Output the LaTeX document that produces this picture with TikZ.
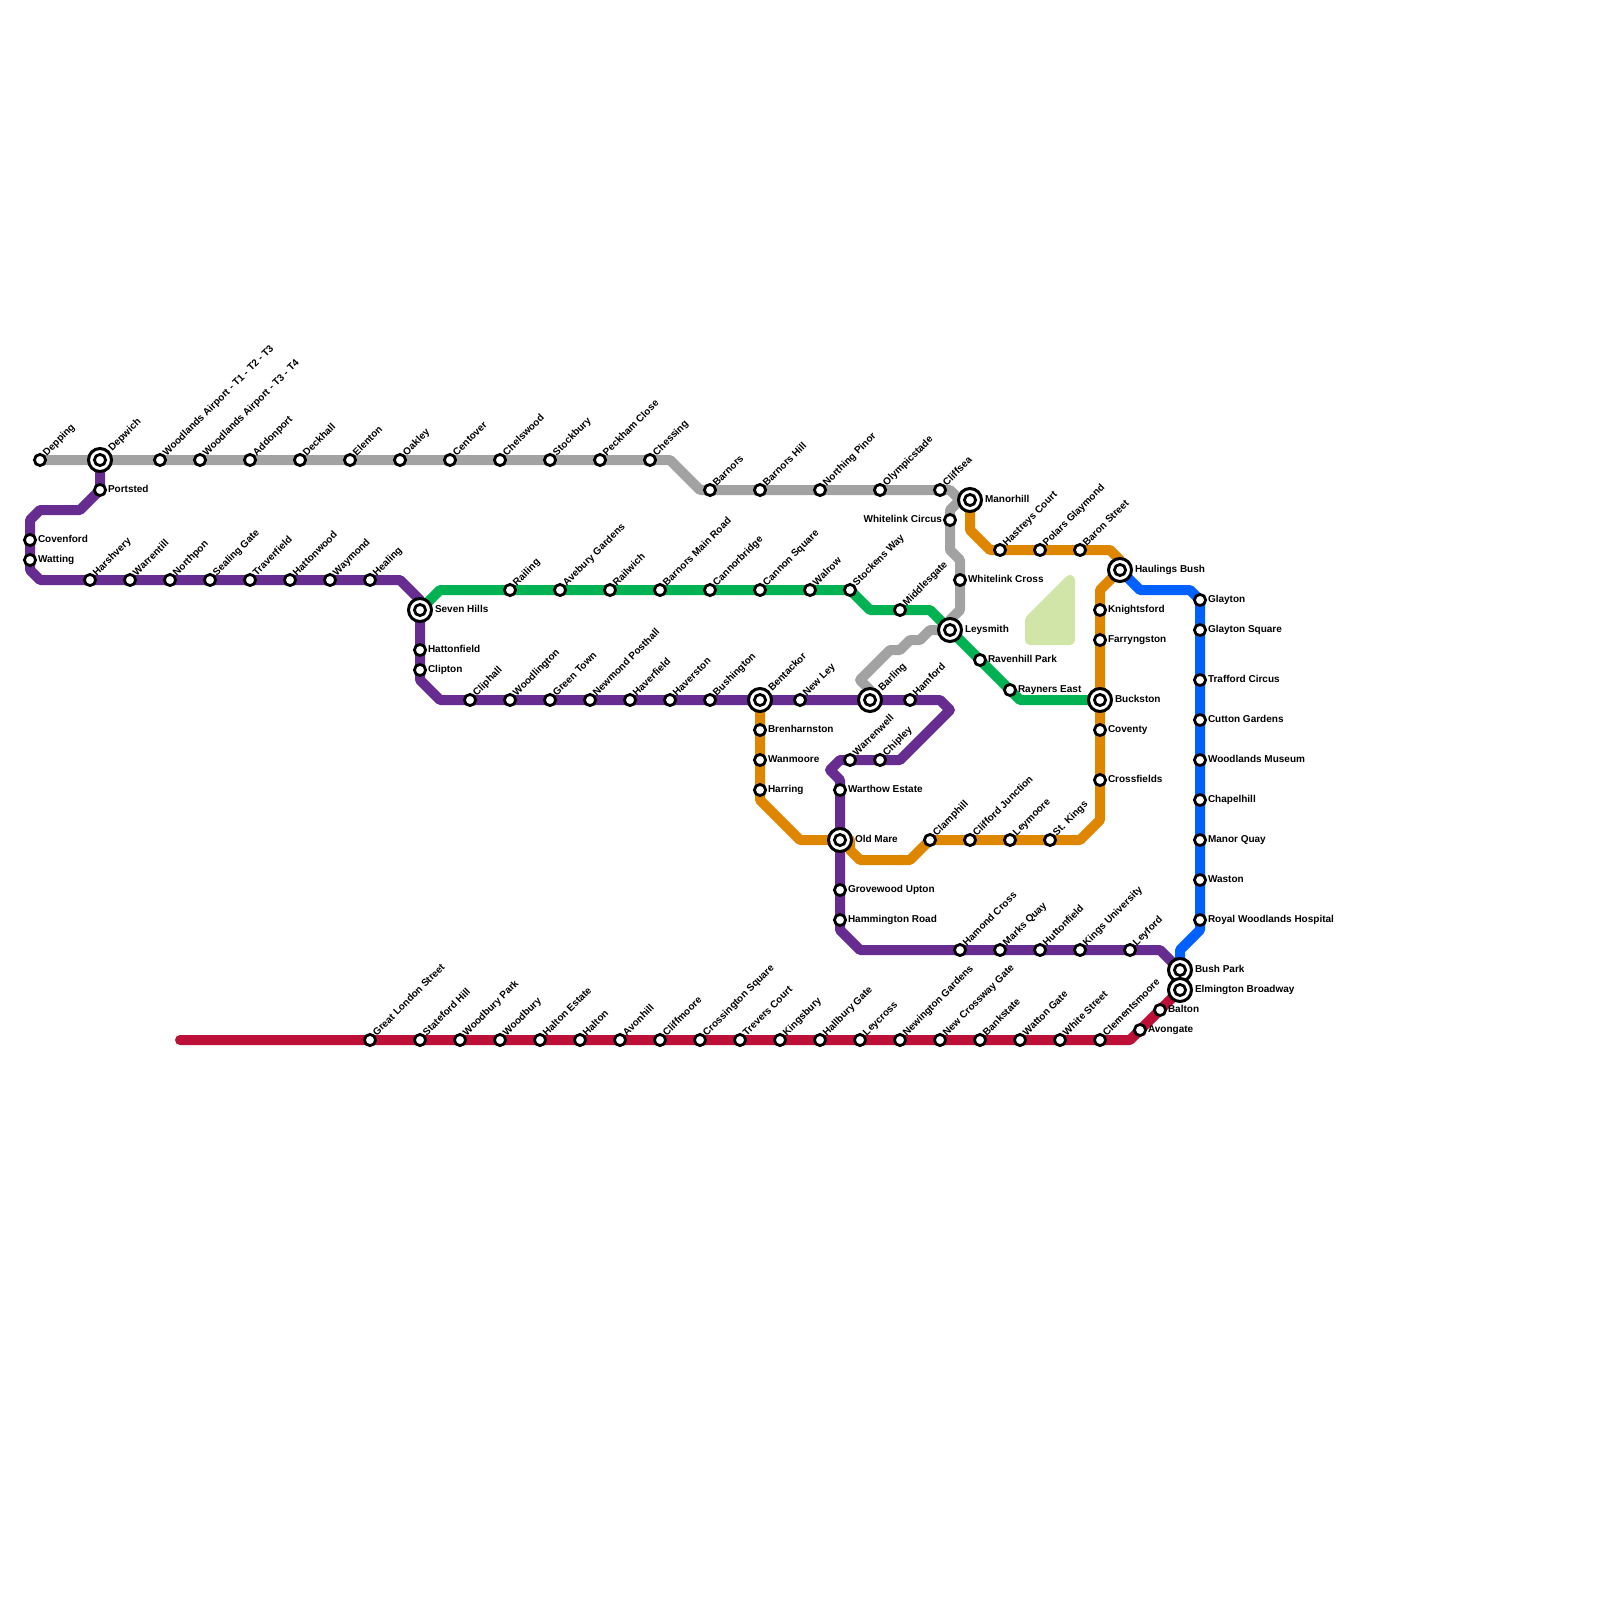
\documentclass[tikz,border=0pt]{standalone}
\usepackage{fontspec}
\setmainfont{Liberation Sans}
\usetikzlibrary{backgrounds}

\definecolor{linegrey}{HTML}{A2A2A2}
\definecolor{linepurple}{HTML}{662C90}
\definecolor{linegreen}{HTML}{00B251}
\definecolor{lineorange}{HTML}{DF8600}
\definecolor{lineblue}{HTML}{0061FF}
\definecolor{linered}{HTML}{BD1038}
\definecolor{parkgreen}{HTML}{D1E5A8}

\tikzset{
  stn/.style={circle, draw=black, fill=white, line width=1.4pt, minimum size=5.6pt, inner sep=0pt},
  hub/.style={circle, draw=black, fill=white, line width=1.5pt, minimum size=11.5pt, inner sep=0pt},
  lbl/.style={font=\bfseries\fontsize{5}{5}\selectfont, inner sep=0pt, outer sep=0pt, text height=3.6pt, text depth=0pt, text=black},
  up/.style={lbl, xshift=2.2pt, yshift=3.15pt, rotate=45, anchor=west},
  hubup/.style={lbl, xshift=4.9pt, yshift=5.5pt, rotate=45, anchor=west},
  rt/.style={lbl, anchor=west, xshift=4pt, yshift=0.5pt},
  lf/.style={lbl, anchor=east, xshift=-4pt, yshift=0.5pt},
  hubrt/.style={lbl, anchor=west, xshift=7.5pt, yshift=0.5pt},
  tube/.style={line width=5pt, line join=round, line cap=round},
}
% name, position, label style, label
\newcommand{\stnat}[4]{\node[stn] (#1) at (#2) {}; \node[#3] (#1-name) at (#1.center) {#4};}
\newcommand{\hubat}[4]{\node[hub] (#1) at (#2) {}; \node[stn] (#1-core) at (#1.center) {}; \node[#3] (#1-name) at (#1.center) {#4};}

\begin{document}
\begin{tikzpicture}[x=0.5pt, y=-0.5pt]
  \useasboundingbox (0,0) rectangle (1600,1600);

  % park
  \filldraw[parkgreen, line width=5pt, line join=round] (1030,620) -- (1070,580) -- (1070,640) -- (1030,640) -- cycle;

  % grey line
  \stnat{depping}{40,460}{up}{Depping}
  \hubat{depwich}{100,460}{hubup}{Depwich}
  \stnat{airporta}{160,460}{up}{Woodlands Airport - T1 - T2 - T3}
  \stnat{airportb}{200,460}{up}{Woodlands Airport - T3 - T4}
  \stnat{addonport}{250,460}{up}{Addonport}
  \stnat{deckhall}{300,460}{up}{Deckhall}
  \stnat{elenton}{350,460}{up}{Elenton}
  \stnat{oakley}{400,460}{up}{Oakley}
  \stnat{centover}{450,460}{up}{Centover}
  \stnat{chelswood}{500,460}{up}{Chelswood}
  \stnat{stockbury}{550,460}{up}{Stockbury}
  \stnat{peckham}{600,460}{up}{Peckham Close}
  \stnat{chessing}{650,460}{up}{Chessing}
  \stnat{barnors}{710,490}{up}{Barnors}
  \stnat{barnorshill}{760,490}{up}{Barnors Hill}
  \stnat{northing}{820,490}{up}{Northing Pinor}
  \stnat{olympic}{880,490}{up}{Olympicstade}
  \stnat{cliffsea}{940,490}{up}{Cliffsea}
  \stnat{wcircus}{950,520}{lf}{Whitelink Circus}
  \stnat{wcross}{960,580}{rt}{Whitelink Cross}

  % purple line
  \stnat{portsted}{100,490}{rt}{Portsted}
  \stnat{covenford}{30,540}{rt}{Covenford}
  \stnat{watting}{30,560}{rt}{Watting}
  \stnat{harshvery}{90,580}{up}{Harshvery}
  \stnat{warrentill}{130,580}{up}{Warrentill}
  \stnat{northpon}{170,580}{up}{Northpon}
  \stnat{sealing}{210,580}{up}{Sealing Gate}
  \stnat{traverfield}{250,580}{up}{Traverfield}
  \stnat{hattonwood}{290,580}{up}{Hattonwood}
  \stnat{waymond}{330,580}{up}{Waymond}
  \stnat{healing}{370,580}{up}{Healing}
  \hubat{sevenhills}{420,610}{hubrt}{Seven Hills}
  \stnat{hattonfield}{420,650}{rt}{Hattonfield}
  \stnat{clipton}{420,670}{rt}{Clipton}
  \stnat{cliphall}{470,700}{up}{Cliphall}
  \stnat{woodlington}{510,700}{up}{Woodlington}
  \stnat{greentown}{550,700}{up}{Green Town}
  \stnat{newmond}{590,700}{up}{Newmond Posthall}
  \stnat{haverfield}{630,700}{up}{Haverfield}
  \stnat{haverston}{670,700}{up}{Haverston}
  \stnat{bushington}{710,700}{up}{Bushington}
  \hubat{bentackor}{760,700}{hubup}{Bentackor}
  \stnat{newley}{800,700}{up}{New Ley}
  \hubat{barling}{870,700}{hubup}{Barling}
  \stnat{hamford}{910,700}{up}{Hamford}
  \stnat{chipley}{880,760}{up}{Chipley}
  \stnat{warrenwell}{850,760}{up}{Warrenwell}
  \stnat{warthow}{840,790}{rt}{Warthow Estate}
  \hubat{oldmare}{840,840}{hubrt}{Old Mare}
  \stnat{grovewood}{840,890}{rt}{Grovewood Upton}
  \stnat{hammington}{840,920}{rt}{Hammington Road}
  \stnat{hamond}{960,950}{up}{Hamond Cross}
  \stnat{marksquay}{1000,950}{up}{Marks Quay}
  \stnat{huttonfield}{1040,950}{up}{Huttonfield}
  \stnat{kingsuni}{1080,950}{up}{Kings University}
  \stnat{leyford}{1130,950}{up}{Leyford}

  % green line
  \stnat{railing}{510,590}{up}{Railing}
  \stnat{avebury}{560,590}{up}{Avebury Gardens}
  \stnat{railwich}{610,590}{up}{Railwich}
  \stnat{barnorsmain}{660,590}{up}{Barnors Main Road}
  \stnat{cannorbridge}{710,590}{up}{Cannorbridge}
  \stnat{cannon}{760,590}{up}{Cannon Square}
  \stnat{walrow}{810,590}{up}{Walrow}
  \stnat{stockens}{850,590}{up}{Stockens Way}
  \stnat{middlesgate}{900,610}{up}{Middlesgate}
  \hubat{leysmith}{950,630}{hubrt}{Leysmith}
  \stnat{ravenhill}{980,660}{rt}{Ravenhill Park}
  \stnat{rayners}{1010,690}{rt}{Rayners East}

  % orange line
  \hubat{manorhill}{970,500}{hubrt}{Manorhill}
  \stnat{hastreys}{1000,550}{up}{Hastreys Court}
  \stnat{polars}{1040,550}{up}{Polars Glaymond}
  \stnat{baron}{1080,550}{up}{Baron Street}
  \hubat{haulings}{1120,570}{hubrt}{Haulings Bush}
  \stnat{knightsford}{1100,610}{rt}{Knightsford}
  \stnat{farryngston}{1100,640}{rt}{Farryngston}
  \hubat{buckston}{1100,700}{hubrt}{Buckston}
  \stnat{coventy}{1100,730}{rt}{Coventy}
  \stnat{crossfields}{1100,780}{rt}{Crossfields}
  \stnat{stkings}{1050,840}{up}{St. Kings}
  \stnat{leymoore}{1010,840}{up}{Leymoore}
  \stnat{clifford}{970,840}{up}{Clifford Junction}
  \stnat{clamphill}{930,840}{up}{Clamphill}
  \stnat{brenharnston}{760,730}{rt}{Brenharnston}
  \stnat{wanmoore}{760,760}{rt}{Wanmoore}
  \stnat{harring}{760,790}{rt}{Harring}

  % blue line
  \stnat{glayton}{1200,600}{rt}{Glayton}
  \stnat{glaytonsq}{1200,630}{rt}{Glayton Square}
  \stnat{trafford}{1200,680}{rt}{Trafford Circus}
  \stnat{cutton}{1200,720}{rt}{Cutton Gardens}
  \stnat{museum}{1200,760}{rt}{Woodlands Museum}
  \stnat{chapelhill}{1200,800}{rt}{Chapelhill}
  \stnat{manorquay}{1200,840}{rt}{Manor Quay}
  \stnat{waston}{1200,880}{rt}{Waston}
  \stnat{royal}{1200,920}{rt}{Royal Woodlands Hospital}
  \hubat{bushpark}{1180,970}{hubrt}{Bush Park}

  % red line
  \hubat{elmington}{1180,990}{hubrt}{Elmington Broadway}
  \stnat{balton}{1160,1010}{rt}{Balton}
  \stnat{avongate}{1140,1030}{rt}{Avongate}
  \stnat{clements}{1100,1040}{up}{Clementsmoore}
  \stnat{whitest}{1060,1040}{up}{White Street}
  \stnat{watton}{1020,1040}{up}{Watton Gate}
  \stnat{bankstate}{980,1040}{up}{Bankstate}
  \stnat{crossway}{940,1040}{up}{New Crossway Gate}
  \stnat{newington}{900,1040}{up}{Newington Gardens}
  \stnat{leycross}{860,1040}{up}{Leycross}
  \stnat{hallbury}{820,1040}{up}{Hallbury Gate}
  \stnat{kingsbury}{780,1040}{up}{Kingsbury}
  \stnat{trevers}{740,1040}{up}{Trevers Court}
  \stnat{crossington}{700,1040}{up}{Crossington Square}
  \stnat{cliffmoore}{660,1040}{up}{Cliffmoore}
  \stnat{avonhill}{620,1040}{up}{Avonhill}
  \stnat{halton}{580,1040}{up}{Halton}
  \stnat{haltonest}{540,1040}{up}{Halton Estate}
  \stnat{woodbury}{500,1040}{up}{Woodbury}
  \stnat{woodburypk}{460,1040}{up}{Woodbury Park}
  \stnat{stateford}{420,1040}{up}{Stateford Hill}
  \stnat{greatlondon}{370,1040}{up}{Great London Street}
  \coordinate (redend) at (180,1040);

  \begin{scope}[on background layer]
    \draw[tube, linegrey] (depping.center) -- (chessing.center) -- (670,460) -- (700,490) -- (cliffsea.center)
      -- (950,490) -- (960,500) -- (950,510) -- (wcircus.center) -- (950,550) -- (960,560) -- (wcross.center)
      -- (960,610) -- (950,620) -- (leysmith.center) -- (930,630) -- (920,640) -- (910,640) -- (900,650)
      -- (890,650) -- (860,680) -- (870,690) -- (barling.center);
    \draw[tube, linepurple] (depwich.center) -- (portsted.center) -- (80,510) -- (40,510) -- (30,520)
      -- (watting.center) -- (30,570) -- (40,580) -- (healing.center) -- (400,580) -- (420,600) -- (sevenhills.center)
      -- (clipton.center) -- (420,680) -- (440,700) -- (hamford.center) -- (940,700) -- (950,710) -- (900,760)
      -- (warrenwell.center) -- (840,760) -- (830,770) -- (840,780) -- (hammington.center) -- (840,930)
      -- (860,950) -- (leyford.center) -- (1160,950) -- (bushpark.center);
    \draw[tube, linegreen] (sevenhills.center) -- (440,590) -- (stockens.center) -- (870,610)
      -- (930,610) -- (leysmith.center) -- (rayners.center) -- (1020,700) -- (buckston.center);
    \draw[tube, lineorange] (manorhill.center) -- (970,530) -- (990,550) -- (baron.center) -- (1110,550)
      -- (1120,560) -- (haulings.center) -- (1100,590) -- (crossfields.center) -- (1100,820) -- (1080,840)
      -- (clamphill.center) -- (910,860) -- (860,860) -- (850,850) -- (850,840) -- (oldmare.center)
      -- (800,840) -- (760,800) -- (bentackor.center);
    \draw[tube, lineblue] (haulings.center) -- (1140,590) -- (1190,590) -- (glayton.center) -- (royal.center)
      -- (1200,930) -- (1180,950) -- (bushpark.center);
    \draw[tube, linered] (elmington.center) -- (avongate.center) -- (1130,1040) -- (redend);
  \end{scope}
\end{tikzpicture}
\end{document}
